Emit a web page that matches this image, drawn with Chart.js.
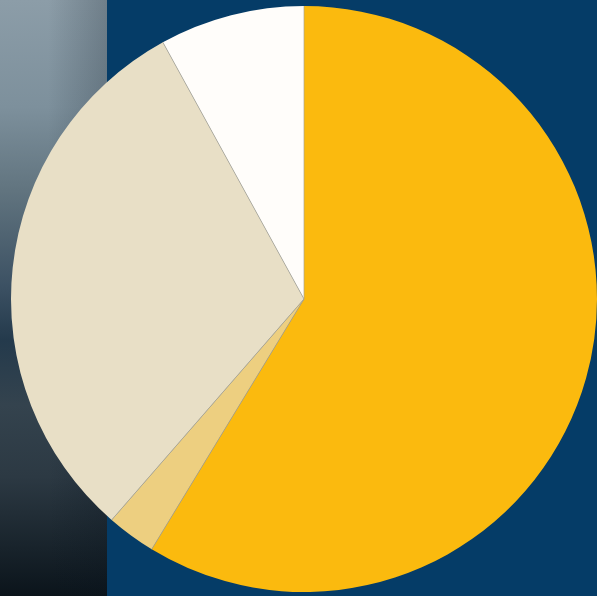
<!DOCTYPE html>
<html>
<head>
<meta charset="utf-8">
<script src="https://cdn.jsdelivr.net/npm/chart.js@4"></script>
<style>
html,body{margin:0;padding:0;}
body{width:597px;height:596px;overflow:hidden;background:#053c67;position:relative;}
#strip{position:absolute;left:0;top:0;width:107px;height:596px;
background:
 linear-gradient(to right, rgba(0,0,0,0) 0%, rgba(0,0,0,0) 45%, rgba(10,20,30,0.22) 100%),
 linear-gradient(to bottom, #8c9da8 0%, #7d909c 18%, #61747f 32%, #3c5163 48%, #243a4c 57%, #34434e 68%, #2c3943 80%, #18232b 92%, #0b141b 100%);}
#wrap{position:absolute;left:0;top:0;width:597px;height:596px;}
</style>
</head>
<body>
<div id="strip"></div>
<div id="wrap"><canvas id="c" width="597" height="596"></canvas></div>
<script>
const categories = ["A", "B", "C", "D"];
const values = [58.7, 2.7, 30.6, 8.0];
const colors = ["#fbba0e", "#edcf80", "#e8dfc6", "#fffdfa"];

const separators = {
  id: 'separators',
  afterDatasetsDraw(chart) {
    const ctx = chart.ctx;
    const meta = chart.getDatasetMeta(0);
    ctx.save();
    ctx.strokeStyle = '#aaa392';
    ctx.lineWidth = 0.7;
    meta.data.forEach(arc => {
      const p = arc.getProps(['x', 'y', 'startAngle', 'outerRadius']);
      ctx.beginPath();
      ctx.moveTo(p.x, p.y);
      ctx.lineTo(p.x + Math.cos(p.startAngle) * p.outerRadius, p.y + Math.sin(p.startAngle) * p.outerRadius);
      ctx.stroke();
    });
    ctx.restore();
  }
};

new Chart(document.getElementById('c'), {
  type: 'pie',
  data: {
    labels: categories,
    datasets: [{
      data: values,
      backgroundColor: colors,
      borderWidth: 0
    }]
  },
  options: {
    responsive: false,
    animation: false,
    layout: { padding: { left: 11, right: 0, top: 6, bottom: 4 } },
    plugins: { legend: { display: false }, tooltip: { enabled: false } }
  },
  plugins: [separators]
});
</script>
</body>
</html>
